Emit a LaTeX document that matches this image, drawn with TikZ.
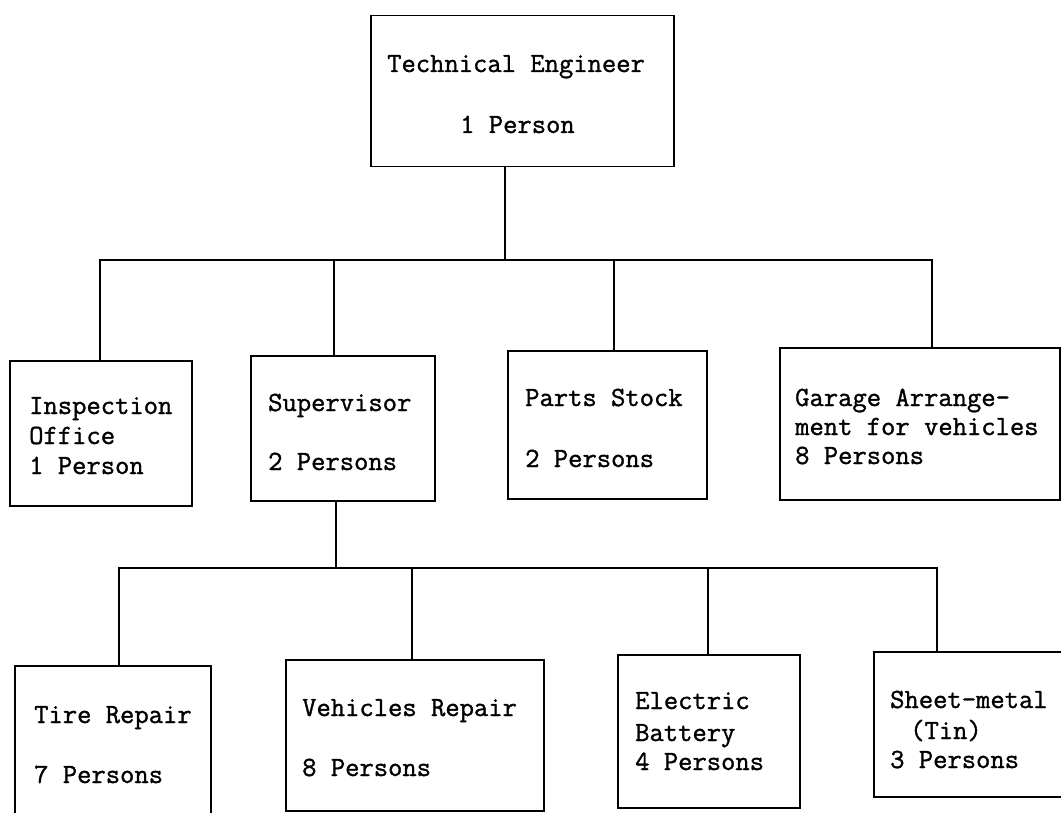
\documentclass[tikz,border=0pt]{standalone}
\usepackage{fontspec}
\newfontfamily\tyfont{Latin Modern Mono}[FakeBold=1.2]
\begin{document}
\begin{tikzpicture}[x=1pt,y=-1pt,
  box/.style={draw,line width=1.5pt,rectangle,inner sep=0pt,anchor=north west},
  txt/.style={anchor=base west,inner sep=0pt,font=\tyfont\fontsize{27.8}{32}\selectfont},
  wire/.style={line width=1.5pt}]
\useasboundingbox (0,0) rectangle (1061,813);
\clip (0,0) rectangle (1061,813);
\fill[white] (0,0) rectangle (1061,813);
% boxes
\node[box,minimum width=303pt,minimum height=151pt] (top) at (370,15) {};
\node[box,minimum width=182pt,minimum height=145pt] (insp) at (9,360) {};
\node[box,minimum width=184pt,minimum height=145pt] (sup) at (250,355) {};
\node[box,minimum width=199pt,minimum height=148pt] (parts) at (507,350) {};
\node[box,minimum width=280pt,minimum height=152pt] (garage) at (779,347) {};
\node[box,minimum width=196pt,minimum height=170pt] (tire) at (14,665) {};
\node[box,minimum width=258pt,minimum height=151pt] (veh) at (285,659) {};
\node[box,minimum width=182pt,minimum height=153pt] (elec) at (617,654) {};
\node[box,minimum width=200pt,minimum height=145pt] (sheet) at (873,651) {};
% texts
\node[txt] (t1) at (387,72) {Technical Engineer};
\node[txt] (t2) at (460,133) {1 Person};
\node[txt] (i1) at (29,414) {Inspection};
\node[txt] (i2) at (29,444) {Office};
\node[txt] (i3) at (29,474) {1 Person};
\node[txt] (s1) at (268,411) {Supervisor};
\node[txt] (s2) at (268,470) {2 Persons};
\node[txt] (p1) at (525,406) {Parts Stock};
\node[txt] (p2) at (525,467) {2 Persons};
\node[txt] (g1) at (795,406) {Garage Arrange-};
\node[txt] (g2) at (795,435) {ment for vehicles};
\node[txt] (g3) at (795,464) {8 Persons};
\node[txt] (r1) at (34,723) {Tire Repair};
\node[txt] (r2) at (34,783) {7 Persons};
\node[txt] (v1) at (302,716) {Vehicles Repair};
\node[txt] (v2) at (302,776) {8 Persons};
\node[txt] (e1) at (635,709) {Electric};
\node[txt] (e2) at (635,741) {Battery};
\node[txt] (e3) at (635,770) {4 Persons};
\node[txt] (h1) at (890,708) {Sheet-metal};
\node[txt] (h2) at (910,739) {(Tin)};
\node[txt] (h3) at (890,768) {3 Persons};
% junctions
\coordinate (t0) at (505,260);
\coordinate (j1) at (100,260);
\coordinate (j2) at (334,260);
\coordinate (j3) at (614,260);
\coordinate (j4) at (932,260);
\coordinate (k0) at (336,568);
\coordinate (k1) at (119,568);
\coordinate (k2) at (412,568);
\coordinate (k3) at (708,568);
\coordinate (k4) at (937,568);
% connectors
\draw[wire] (t0 |- top.south) -- (t0);
\draw[wire] (j1 |- insp.north) -- (j1) -- (j4) -- (j4 |- garage.north);
\draw[wire] (j2) -- (j2 |- sup.north);
\draw[wire] (j3) -- (j3 |- parts.north);
\draw[wire] (k0 |- sup.south) -- (k0);
\draw[wire] (k1 |- tire.north) -- (k1) -- (k4) -- (k4 |- sheet.north);
\draw[wire] (k2) -- (k2 |- veh.north);
\draw[wire] (k3) -- (k3 |- elec.north);
\end{tikzpicture}
\end{document}
